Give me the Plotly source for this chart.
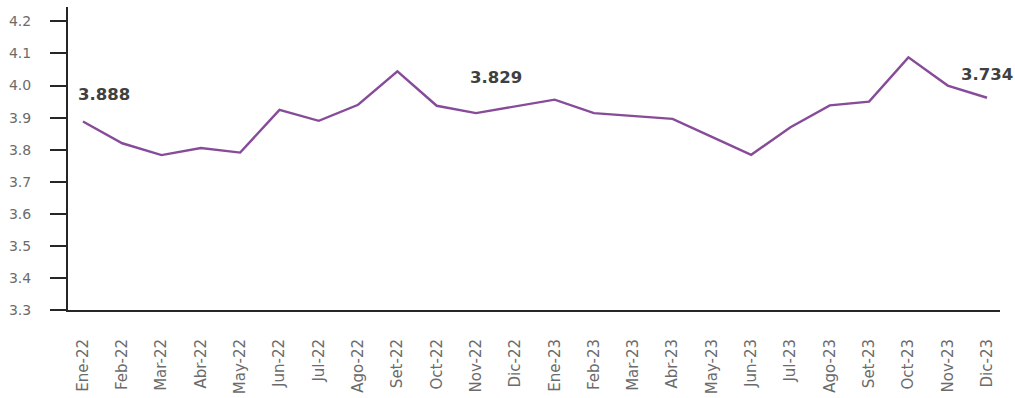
import plotly.graph_objects as go

# Monthly series, Jan 2022 - Dec 2023
months = ["Ene-22", "Feb-22", "Mar-22", "Abr-22", "May-22", "Jun-22",
          "Jul-22", "Ago-22", "Set-22", "Oct-22", "Nov-22", "Dic-22",
          "Ene-23", "Feb-23", "Mar-23", "Abr-23", "May-23", "Jun-23",
          "Jul-23", "Ago-23", "Set-23", "Oct-23", "Nov-23", "Dic-23"]
values = [3.888, 3.820, 3.783, 3.805, 3.791, 3.924,
          3.890, 3.940, 4.044, 3.937, 3.914, 3.935,
          3.956, 3.914, 3.906, 3.896, 3.840, 3.784,
          3.870, 3.938, 3.950, 4.088, 4.000, 3.962]

# Highlighted figures written over the line
callout_text = ["3.888", "3.829", "3.734"]
callout_x = [0.53, 10.51, 23.0]
callout_y = [3.971, 4.024, 4.034]

y_ticks = [3.3, 3.4, 3.5, 3.6, 3.7, 3.8, 3.9, 4.0, 4.1, 4.2]

idx = list(range(len(months)))

fig = go.Figure()
fig.add_trace(go.Scatter(
    x=idx, y=values, mode="lines",
    line=dict(color="#874c99", width=2.4),
    hoverinfo="skip", showlegend=False,
))

for t, xv, yv in zip(callout_text, callout_x, callout_y):
    fig.add_annotation(
        x=xv, y=yv, xref="x", yref="y", text=f"<b>{t}</b>",
        showarrow=False, xanchor="center", yanchor="middle",
        font=dict(family="DejaVu Sans", size=16.5, color="#404040"),
    )

axis_dark = "#262626"
fig.update_layout(
    width=1015, height=398,
    margin=dict(l=68, r=15, t=7, b=88, autoexpand=False),
    paper_bgcolor="white", plot_bgcolor="white",
    font=dict(family="DejaVu Sans", size=14, color="#6b6b6b"),
    xaxis=dict(
        range=[-0.38, 23.33],
        tickmode="array", tickvals=idx, ticktext=months,
        tickangle=-90, ticks="", showgrid=False, zeroline=False,
        showline=True, linecolor=axis_dark, linewidth=2,
        ticklabelstandoff=21, automargin=False,
        tickfont=dict(size=15, color="#6b6b6b"),
    ),
    yaxis=dict(
        range=[3.3, 4.245],
        tickmode="array", tickvals=y_ticks,
        ticktext=[f"{v:.1f}" for v in y_ticks],
        ticks="outside", ticklen=16, tickwidth=2.2, tickcolor=axis_dark,
        showgrid=False, zeroline=False,
        showline=True, linecolor=axis_dark, linewidth=2,
        ticklabelstandoff=16, automargin=False,
        tickfont=dict(size=14, color="#6b6b6b"),
    ),
)

fig.write_html("out.html")
